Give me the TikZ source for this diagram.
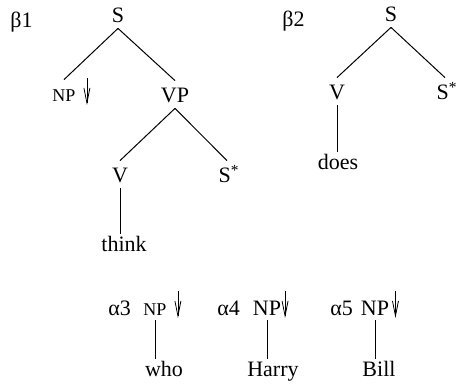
\documentclass[tikz,border=0pt]{standalone}
\usepackage{fontspec}
\setmainfont{Liberation Serif}
\usepackage{tikz}
\usetikzlibrary{arrows.meta}

\begin{document}
\begin{tikzpicture}[
				x=0.5pt, y=-0.5pt,
				texts/.style = {text=black, font=\fontsize{11}{13}\selectfont},
				treenode/.style = {texts, anchor=base, inner xsep=0pt, inner ysep=2.5pt, text height=8.5pt, text depth=0pt},
				smallnode/.style = {treenode, font=\fontsize{9}{11}\selectfont},
				leafnode/.style = {treenode, text height=6.5pt},
				treename/.style = {texts, anchor=base west, inner sep=0pt},
				treeline/.style = {draw=black, line width=0.5pt},
				substline/.style = {treeline, line width=0.4pt, -{Straight Barb[length=7.5pt, width=3pt]}}
				]
				\useasboundingbox (0,0) rectangle (456,385);
				
				% beta1
				\node[treename] (b1) at (10,28) {β1};
				\node[treenode] (s1) at (118,23) {S};
				\node[smallnode] (npa) at (64,102) {NP};
				\node[treenode] (vp) at (175,103) {VP};
				\node[treenode] (v1) at (120,183) {V};
				\node[treenode] (sstar1) at (229,183) {S\textsuperscript{*}};
				\node[leafnode] (think) at (124,252) {think};
				\draw[treeline] (s1.south) -- (npa.north);
				\draw[treeline] (s1.south) -- (vp.north);
				\draw[treeline] (vp.south) -- (v1.north);
				\draw[treeline] (vp.south) -- ([xshift=-1pt]sstar1.north);
				\draw[treeline] (v1.south) -- (v1.south |- think.north);
				\draw[substline] ([xshift=5.5pt, yshift=12pt]npa.base east) -- ([xshift=5.5pt, yshift=-1.5pt]npa.base east);
				
				% beta2
				\node[treename] (b2) at (282,27) {β2};
				\node[treenode] (s2) at (391,22) {S};
				\node[treenode] (v2) at (337,100) {V};
				\node[treenode] (sstar2) at (447,100) {S\textsuperscript{*}};
				\node[leafnode] (does) at (338,170) {does};
				\draw[treeline] (s2.south) -- (v2.north);
				\draw[treeline] (s2.south) -- ([xshift=-1pt]sstar2.north);
				\draw[treeline] (v2.south) -- (v2.south |- does.north);
				
				% alpha3 - alpha5
				\node[treename] (a3) at (108,315) {α3};
				\node[smallnode] (np3) at (155,315) {NP};
				\node[leafnode] (who) at (164,377) {who};
				\draw[treeline] (np3.south) -- (np3.south |- who.north);
				\draw[substline] ([xshift=5.5pt, yshift=12pt]np3.base east) -- ([xshift=5.5pt, yshift=-1.5pt]np3.base east);
				
				\node[treename] (a4) at (217,315) {α4};
				\node[treenode] (np4) at (267,315) {NP};
				\node[leafnode] (harry) at (273,377) {Harry};
				\draw[treeline] (np4.south) -- (np4.south |- harry.north);
				\draw[substline] ([xshift=1.8pt, yshift=12pt]np4.base east) -- ([xshift=1.8pt, yshift=-1.5pt]np4.base east);
				
				\node[treename] (a5) at (330,315) {α5};
				\node[treenode] (np5) at (375,315) {NP};
				\node[leafnode] (bill) at (379,377) {Bill};
				\draw[treeline] (np5.south) -- (np5.south |- bill.north);
				\draw[substline] ([xshift=3pt, yshift=12pt]np5.base east) -- ([xshift=3pt, yshift=-1.5pt]np5.base east);
\end{tikzpicture}
\end{document}
